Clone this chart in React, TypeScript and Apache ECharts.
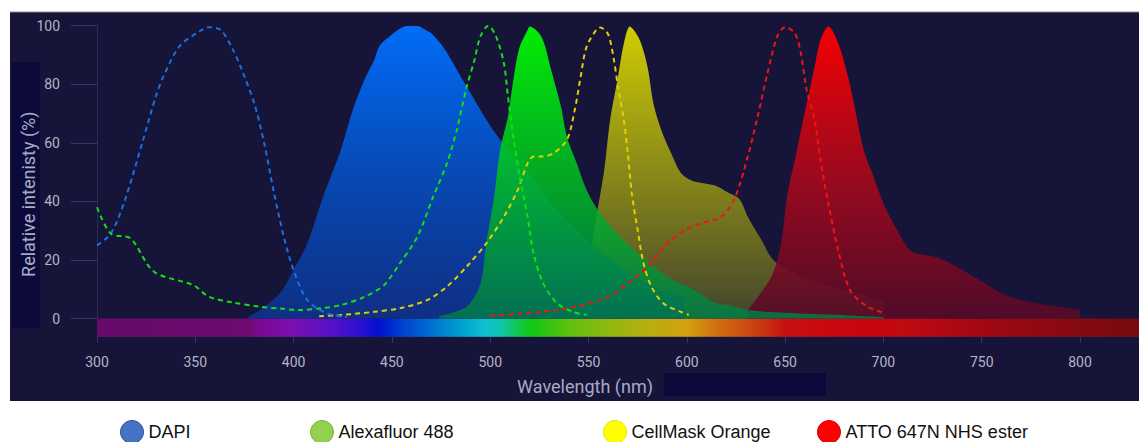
import { useEffect, useRef } from "react";
import * as echarts from "echarts";

// ---- tick values ----
const yTickValues = [0, 20, 40, 60, 80, 100];

// ---- excitation spectra (dashed) ----
const dapiExWl = [300, 307, 314, 323, 330, 334, 342, 352, 357, 363, 369, 373, 380, 385, 390, 395, 400, 407, 417, 427];
const dapiExVal = [25, 29, 40, 60, 76, 83, 93, 98, 99.5, 98.5, 92, 86, 73.5, 60, 43, 28, 16.5, 6.3, 1.8, 0.5];

const alexaExWl = [300, 307, 317, 329, 349, 357, 369, 383, 393, 403, 414, 424, 436, 446, 454, 463, 471, 478, 483, 488, 492, 495, 499, 503, 507, 509, 512, 515, 519, 522, 527, 534, 542, 549];
const alexaExVal = [38, 29, 27.4, 16, 11.4, 7.4, 5.5, 4, 3.4, 2.9, 3.5, 4.6, 7.4, 11.4, 18.8, 28, 41.6, 53, 64.4, 79, 88.3, 96.3, 100, 96.3, 87, 76, 61, 48.4, 34.8, 22.3, 12, 5.2, 2.3, 1.2];

const cellMaskExWl = [413, 424, 441, 454, 468, 478, 488, 498, 507, 514, 519, 522, 526, 532, 539, 543, 546, 549, 554, 556, 560, 563, 565, 568, 570, 572, 575, 578, 582, 588, 597, 601];
const cellMaskExVal = [0.8, 1.2, 2.3, 3.5, 6.3, 10.9, 17.7, 25.7, 34.8, 43.9, 53, 55.3, 55.3, 56.4, 61, 71.2, 82.6, 92.8, 98.6, 99.4, 97, 88, 79, 67.7, 56.4, 42.8, 30.2, 18.8, 10.9, 5.2, 2.3, 1.2];

const attoExWl = [500, 526, 543, 560, 570, 580, 590, 600, 607, 617, 624, 631, 636, 641, 646, 650, 655, 658, 661, 665, 668, 672, 677, 683, 692, 700];
const attoExVal = [1, 2.3, 4, 7.4, 12, 17.7, 25.7, 30.5, 32.5, 34.5, 40.5, 55.3, 68.9, 83.7, 96.3, 99.5, 97.4, 90.6, 78, 67.8, 54.1, 39.3, 23.4, 9.7, 4, 2];

// ---- emission spectra (filled) ----
const dapiEmWl = [376, 383, 393, 400, 407, 415, 424, 430, 436, 441, 444, 450, 454, 458, 463, 466, 470, 476, 483, 490, 497, 504, 517, 531, 542, 551, 560, 570, 580, 590, 599];
const dapiEmVal = [0, 3, 8.6, 16.6, 25.7, 41.6, 57.5, 71, 81.5, 88.3, 93.4, 97, 99, 100, 99.9, 99, 97.4, 92.8, 85, 77, 69, 62, 52, 39.3, 31.3, 25.7, 21, 16, 12, 9, 7.4];

const alexaEmWl = [474, 488, 495, 498, 502, 505, 509, 512, 515, 519, 520, 526, 531, 536, 539, 544, 549, 556, 566, 577, 590, 604, 614, 621, 631, 650, 677, 700];
const alexaEmVal = [0.8, 4, 11.9, 25.7, 41.6, 57.5, 68.9, 82.6, 92.8, 98.5, 99.7, 96.3, 84.9, 72.3, 62.1, 53, 43.9, 35.9, 27.9, 21.1, 14.3, 9.7, 5.5, 4.5, 2.9, 2, 1.2, 0.5];

const cellMaskEmWl = [546, 549, 554, 558, 561, 565, 568, 571, 576, 580, 583, 587, 592, 597, 603, 614, 621, 627, 631, 638, 644, 655, 668, 682, 692, 701];
const cellMaskEmVal = [1.2, 14.3, 34.8, 50.7, 67.8, 82.6, 94, 99.7, 95.2, 86, 73.5, 64.4, 56.5, 49.7, 47, 45.5, 43, 40.6, 34.8, 26.8, 20, 15.4, 12, 9.2, 7.4, 5.7];

const attoEmWl = [631, 643, 648, 651, 656, 661, 665, 668, 672, 677, 682, 685, 690, 695, 700, 707, 714, 726, 734, 748, 762, 778, 800];
const attoEmVal = [2.9, 14.3, 25.7, 41.6, 57.5, 73.5, 86, 95.1, 99.7, 94, 82.6, 73.5, 57.5, 48.4, 39.3, 30.2, 23, 21.1, 18.9, 13.5, 8, 5.2, 2.9];

// ---- legend ----
const legendNames = ["DAPI", "Alexafluor 488", "CellMask Orange", "ATTO 647N NHS ester"];
const legendColors = ["#4472c4", "#92d050", "#ffff00", "#ff0000"];
const legendBorders = ["#2f528f", "#7fb844", "#e6e600", "#e00000"];

// ---- visible spectrum strip ----
const xMin = 300;
const xMax = 830;
const stripBottom = -6.2;
const spectrumWl = [300, 378, 381, 400, 420, 435, 443, 455, 468, 485, 497, 505, 515, 522, 540, 560, 580, 600, 615, 635, 650, 690, 710, 750, 800, 830];
const spectrumColors = ["#650a68", "#6e0a70", "#7a0890", "#7a10b0", "#5510c8", "#2a10d0", "#0010cc", "#0040d0", "#0068d0", "#00a0d0", "#10c0d0", "#10c4b0", "#10c840", "#10c810", "#60c010", "#90b810", "#b8ae10", "#d4a010", "#d07010", "#c84010", "#c81010", "#c80410", "#c00a12", "#a20812", "#840a12", "#780a10"];

const zip = (a: number[], b: number[]) => a.map((x, i) => [x, b[i]]);

export default function App() {
  const ref = useRef<HTMLDivElement>(null);
  useEffect(() => {
    if (!ref.current) return;
    const chart = echarts.init(ref.current, undefined, { renderer: "svg" });

    const grad = (stops: [number, string][]) =>
      new echarts.graphic.LinearGradient(0, 0, 0, 1, stops.map(([offset, color]) => ({ offset, color })));

    const area = (name: string, wl: number[], val: number[], stops: [number, string][], extra: any = {}) => ({
      name,
      type: "line",
      data: zip(wl, val),
      smooth: 0.3,
      showSymbol: false,
      symbol: "none",
      silent: true,
      lineStyle: { width: 0 },
      areaStyle: { opacity: 1, color: grad(stops) },
      emphasis: { disabled: true },
      ...extra,
    });

    const dashed = (name: string, wl: number[], val: number[], color: string) => ({
      name,
      type: "line",
      data: zip(wl, val),
      smooth: 0.3,
      showSymbol: false,
      symbol: "none",
      silent: true,
      lineStyle: { width: 2, type: [5, 4], color },
      emphasis: { disabled: true },
    });

    const spectrumGradient = new echarts.graphic.LinearGradient(
      0, 0, 1, 0,
      spectrumWl.map((w, i) => ({ offset: (w - xMin) / (xMax - xMin), color: spectrumColors[i] }))
    );

    const axisText = { color: "#b4b4c4", fontSize: 14, fontFamily: "Roboto, sans-serif" };
    const nameText = { color: "#aaaac4", fontSize: 18, fontFamily: "Roboto, sans-serif" };

    const option: any = {
      animation: false,
      backgroundColor: "#ffffff",
      graphic: [
        { type: "rect", z: -10, silent: true, shape: { x: 10, y: 12, width: 1129, height: 389 }, style: { fill: "#161438" } },
        { type: "line", z: -9, silent: true, shape: { x1: 10, y1: 12, x2: 1139, y2: 12 }, style: { stroke: "#8c8c9c", lineWidth: 1 } },
        { type: "rect", z: -9, silent: true, shape: { x: 12, y: 62, width: 28, height: 266 }, style: { fill: "#0c0a3a" } },
        { type: "rect", z: -9, silent: true, shape: { x: 664, y: 373, width: 162, height: 23 }, style: { fill: "#0c0a3a" } },
      ],
      grid: { left: 97, right: 0, top: 25.7, bottom: 105.3, containLabel: false },
      xAxis: {
        type: "value",
        min: xMin,
        max: xMax,
        interval: 50,
        axisLine: { show: true, onZero: false, lineStyle: { color: "#2c2a5a", width: 1 } },
        axisTick: { show: true, length: 6, lineStyle: { color: "#37356c" } },
        axisLabel: { ...axisText, margin: 18, showMaxLabel: false },
        splitLine: { show: false },
        name: "Wavelength (nm)",
        nameLocation: "middle",
        nameGap: 41,
        nameMoveOverlap: false,
        nameTextStyle: { ...nameText, padding: [0, 66, 0, 0] },
      },
      yAxis: {
        type: "value",
        min: stripBottom,
        max: 100,
        axisLine: { show: true, onZero: false, lineStyle: { color: "#2c2a5a", width: 1 } },
        axisTick: { show: true, length: 26, customValues: yTickValues, lineStyle: { color: "#37356c" } },
        axisLabel: { ...axisText, margin: 37, customValues: yTickValues },
        splitLine: { show: false },
        name: "Relative intenisty (%)",
        nameLocation: "middle",
        nameRotate: 90,
        nameGap: 60,
        nameMoveOverlap: false,
        nameTextStyle: { ...nameText, padding: [0, 26, 0, 0] },
      },
      legend: legendNames.map((name, i) => ({
        data: [{ name, itemStyle: { color: legendColors[i], borderColor: legendBorders[i], borderWidth: 1 } }],
        left: [120, 310, 603, 817][i],
        top: 420,
        icon: "circle",
        itemWidth: 23,
        itemHeight: 23,
        padding: 0,
        selectedMode: false,
        textStyle: { fontSize: 18, color: "#111111", fontFamily: "'Liberation Sans', Arial, sans-serif" },
      })),
      series: [
        area("CellMask Orange", cellMaskEmWl, cellMaskEmVal, [
          [0, "rgba(218,214,0,0.95)"],
          [0.5, "rgba(150,150,22,0.9)"],
          [1, "rgba(72,74,42,0.9)"],
        ], {
          markArea: {
            silent: true,
            itemStyle: { color: spectrumGradient, opacity: 1 },
            data: [[{ coord: [xMin, stripBottom] }, { coord: [xMax, 0] }]],
          },
        }),
        area("ATTO 647N NHS ester", attoEmWl, attoEmVal, [
          [0, "rgba(255,0,0,0.95)"],
          [0.5, "rgba(172,8,26,0.9)"],
          [1, "rgba(86,10,40,0.9)"],
        ]),
        dashed("ATTO 647N excitation", attoExWl, attoExVal, "#f01414"),
        dashed("CellMask Orange excitation", cellMaskExWl, cellMaskExVal, "#e0d000"),
        area("DAPI", dapiEmWl, dapiEmVal, [
          [0, "rgba(0,112,255,0.96)"],
          [0.5, "rgba(6,78,192,0.92)"],
          [1, "rgba(14,50,140,0.9)"],
        ]),
        area("Alexafluor 488", alexaEmWl, alexaEmVal, [
          [0, "rgba(0,248,0,0.95)"],
          [0.5, "rgba(0,190,34,0.88)"],
          [1, "rgba(0,126,72,0.82)"],
        ]),
        dashed("DAPI excitation", dapiExWl, dapiExVal, "#1a6fe6"),
        dashed("Alexafluor 488 excitation", alexaExWl, alexaExVal, "#12e012"),
      ],
    };

    chart.setOption(option);
    return () => chart.dispose();
  }, []);

  return (
    <div
      ref={ref}
      style={{ position: "fixed", left: 0, top: 0, width: 1139, height: 442, background: "#ffffff" }}
    />
  );
}
